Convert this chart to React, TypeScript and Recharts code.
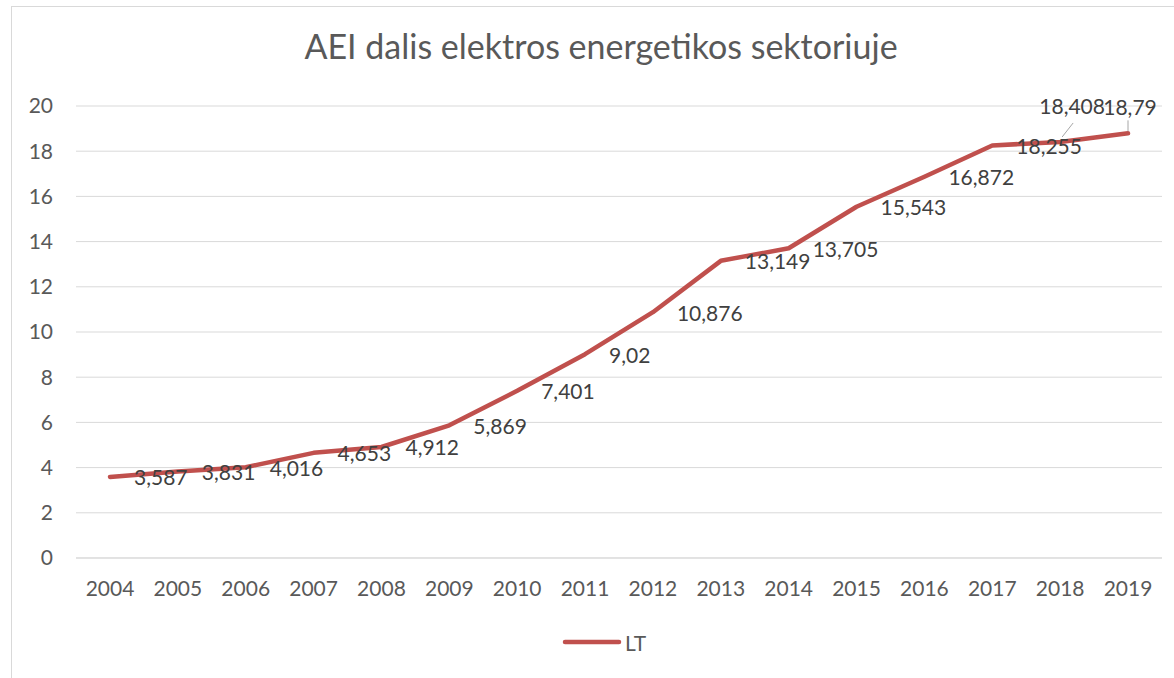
import React from 'react';
import { LineChart, Line, XAxis, YAxis, CartesianGrid, Legend, LabelList } from 'recharts';

const years = ['2004','2005','2006','2007','2008','2009','2010','2011','2012','2013','2014','2015','2016','2017','2018','2019'];
const ltValues = [3.587, 3.831, 4.016, 4.653, 4.912, 5.869, 7.401, 9.02, 10.876, 13.149, 13.705, 15.543, 16.872, 18.255, 18.408, 18.79];
const yTicks = [0, 2, 4, 6, 8, 10, 12, 14, 16, 18, 20];
const seriesName = 'LT';
const titleText = 'AEI dalis elektros energetikos sektoriuje';

const data = years.map((y, i) => ({ year: y, LT: ltValues[i] }));

const FONT = 'Lato, "Open Sans", sans-serif';
const LINE_COLOR = '#C0504D';

const fmt = (v: number) => String(v).replace('.', ',');

const DataLabel = (props: any) => {
  const { x, y, value, index } = props;
  const label = fmt(value);
  const style = { fontFamily: FONT, fontSize: 21, fill: '#404040' };
  if (index === data.length - 2) {
    return (
      <g>
        <line x1={x + 13} y1={y - 19} x2={x + 2} y2={y - 5} stroke="#a6a6a6" strokeWidth={1} />
        <text x={x + 12} y={y - 36} textAnchor="middle" dominantBaseline="central" style={style}>{label}</text>
      </g>
    );
  }
  if (index === data.length - 1) {
    return (
      <g>
        <line x1={x} y1={y - 13} x2={x} y2={y - 2} stroke="#a6a6a6" strokeWidth={1} />
        <text x={x + 2} y={y - 27} textAnchor="middle" dominantBaseline="central" style={style}>{label}</text>
      </g>
    );
  }
  return (
    <text x={x + 24} y={y} textAnchor="start" dominantBaseline="central" style={style}>{label}</text>
  );
};

const LegendContent = () => (
  <div style={{ height: 30, display: 'flex', alignItems: 'center', justifyContent: 'center', paddingLeft: 46, fontFamily: FONT, fontSize: 21, color: '#595959' }}>
    <svg width={60} height={10} style={{ marginRight: 3 }}>
      <line x1={3} y1={5} x2={57} y2={5} stroke={LINE_COLOR} strokeWidth={4.5} strokeLinecap="round" />
    </svg>
    <span>{seriesName}</span>
  </div>
);

export default function App() {
  return (
    <div style={{ position: 'absolute', left: 0, top: 0, width: 1174, height: 678, overflow: 'hidden', background: '#fff' }}>
      <div style={{ position: 'absolute', left: 11, top: 6, width: 1250, height: 750, border: '1px solid #d9d9d9', boxSizing: 'border-box' }} />
      <div style={{ position: 'absolute', left: 0, top: 25, width: 1202, textAlign: 'center', fontFamily: FONT, fontSize: 34, color: '#595959' }}>
        {titleText}
      </div>
      <div style={{ position: 'absolute', left: 0, top: 0 }}>
        <LineChart width={1174} height={678} data={data} margin={{ top: 106, right: 12, left: 0, bottom: 21 }}>
          <CartesianGrid vertical={false} stroke="#d9d9d9" strokeWidth={1} />
          <XAxis
            dataKey="year"
            height={69}
            axisLine={{ stroke: '#d9d9d9' }}
            tickLine={false}
            tickSize={0}
            tickMargin={23}
            padding={{ left: 34, right: 34 }}
            tick={{ fontFamily: FONT, fontSize: 21, fill: '#595959' }}
            interval={0}
          />
          <YAxis
            width={76}
            domain={[0, 20]}
            ticks={yTicks}
            axisLine={false}
            tickLine={false}
            tickSize={0}
            tickMargin={23}
            tick={{ fontFamily: FONT, fontSize: 21, fill: '#595959' }}
          />
          <Legend verticalAlign="bottom" align="center" content={<LegendContent />} />
          <Line
            type="linear"
            dataKey="LT"
            name={seriesName}
            stroke={LINE_COLOR}
            strokeWidth={4.5}
            strokeLinecap="round"
            strokeLinejoin="round"
            dot={false}
            activeDot={false}
            isAnimationActive={false}
          >
            <LabelList dataKey="LT" content={<DataLabel />} />
          </Line>
        </LineChart>
      </div>
    </div>
  );
}
